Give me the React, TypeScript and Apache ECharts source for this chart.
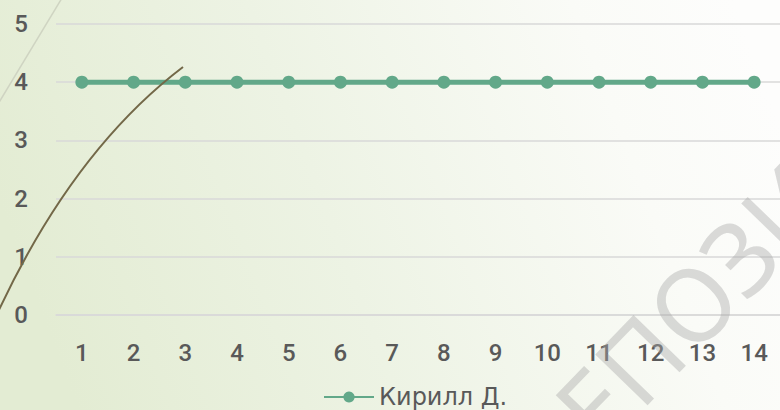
import React, { useEffect, useRef } from "react";
import * as echarts from "echarts";

const categories = ["1", "2", "3", "4", "5", "6", "7", "8", "9", "10", "11", "12", "13", "14"];
const seriesName = "Кирилл Д.";
const values = [4, 4, 4, 4, 4, 4, 4, 4, 4, 4, 4, 4, 4, 4];
const yMin = 0;
const yMax = 5;
const yInterval = 1;
const watermark = "РЕПОЗИТОРИЙ";

export default function App() {
  const ref = useRef<HTMLDivElement>(null);
  useEffect(() => {
    if (!ref.current) return;
    const chart = echarts.init(ref.current, undefined, { renderer: "svg" });
    const rot = (46 * Math.PI) / 180;
    chart.setOption({
      animation: false,
      backgroundColor: {
        type: "linear",
        x: 0,
        y: 0.5,
        x2: 1,
        y2: 0.3,
        colorStops: [
          { offset: 0, color: "#e3ecd3" },
          { offset: 0.4, color: "#edf3e4" },
          { offset: 0.8, color: "#fafbf7" },
          { offset: 1, color: "#fdfdfc" },
        ],
      },
      grid: { left: 56, right: -4, top: 24, bottom: 95, containLabel: false },
      legend: {
        data: [seriesName],
        left: 318,
        top: 380,
        itemWidth: 50,
        itemHeight: 14,
        itemGap: 10,
        textStyle: { color: "#595959", fontSize: 24, fontFamily: "DejaVu Sans" },
      },
      xAxis: {
        type: "category",
        data: categories,
        boundaryGap: true,
        axisLine: { show: true, lineStyle: { color: "#d9d9d9", width: 1.5 } },
        axisTick: { show: false },
        axisLabel: { color: "#595959", fontSize: 24, fontFamily: "Roboto", fontWeight: 500, margin: 26 },
        splitLine: { show: false },
      },
      yAxis: {
        type: "value",
        min: yMin,
        max: yMax,
        interval: yInterval,
        axisLine: { show: false },
        axisTick: { show: false },
        axisLabel: { color: "#595959", fontSize: 24, fontFamily: "Roboto", fontWeight: 500, margin: 28 },
        splitLine: { show: true, lineStyle: { color: "#d9d9d9", width: 1.5 } },
      },
      series: [
        {
          name: seriesName,
          type: "line",
          data: values,
          symbol: "circle",
          symbolSize: 13,
          lineStyle: { color: "#62a889", width: 5 },
          itemStyle: { color: "#62a889" },
          z: 3,
        },
      ],
      graphic: [
        {
          type: "line",
          silent: true,
          z: 1,
          shape: { x1: 62, y1: -2, x2: -2, y2: 104 },
          style: { stroke: "#cfd4c2", lineWidth: 1.5 },
        },
        {
          type: "bezierCurve",
          silent: true,
          z: 10,
          shape: { x1: -2, y1: 312, cpx1: 40, cpy1: 222, cpx2: 100, cpy2: 130, x2: 183, y2: 67 },
          style: { stroke: "#736848", lineWidth: 2, fill: null },
        },
        {
          type: "text",
          silent: true,
          z: 20,
          x: 530,
          y: 470,
          rotation: rot,
          style: {
            text: watermark,
            font: "normal 102px 'Noto Sans'",
            fill: "rgba(170,170,170,0.42)",
            align: "left",
            verticalAlign: "middle",
          },
        },
      ],
    });
    return () => chart.dispose();
  }, []);
  return <div ref={ref} style={{ width: 780, height: 410, position: "absolute", left: 0, top: 0 }} />;
}
